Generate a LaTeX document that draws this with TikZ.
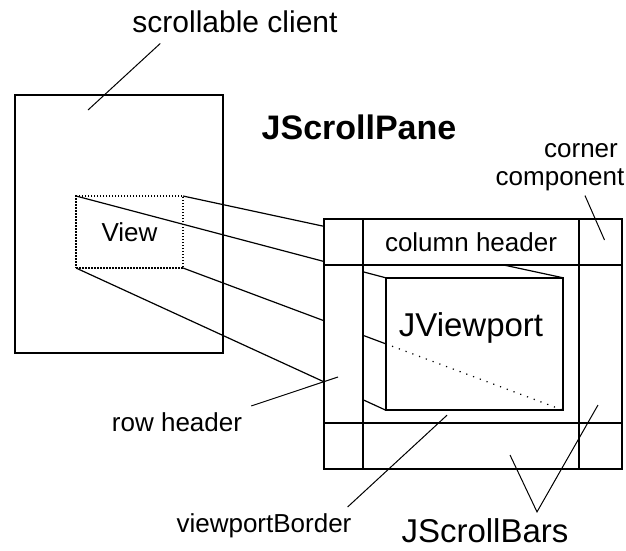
\documentclass[tikz,border=0pt]{standalone}
\usepackage{fontspec}
\setmainfont{Liberation Sans}
\usetikzlibrary{calc,positioning}

\tikzstyle{box}=[draw,line width=1.6pt,inner sep=0pt,outer sep=0pt]
\tikzstyle{cell}=[box,font=\fontsize{26}{30}\selectfont]
\tikzstyle{lbl}=[inner sep=0pt,anchor=base,font=\fontsize{26}{30}\selectfont]
\tikzstyle{big}=[lbl,font=\fontsize{33}{38}\selectfont]
\tikzstyle{lead}=[line width=1pt]
\tikzstyle{proj}=[line width=1.2pt]

\begin{document}
\begin{tikzpicture}[x=1pt,y=-1pt]
\useasboundingbox (0,0) rectangle (626,550);

% % % % % % % % % % % % % % %

% scrollable client with its view
\node[box,minimum width=208pt,minimum height=258pt] (client) at (119,224) {};
\node[cell,dash pattern=on 1.5pt off 1.5pt,minimum width=107pt,
      minimum height=72pt] (view) at (129.5,232) {View};

% the viewport (drawn later)
\node[inner sep=0pt,minimum width=177pt,minimum height=132pt] (port) at (474.5,344) {};

% projection of the view onto the viewport
\foreach \a in {north west,north east,south west,south east} {
\draw[proj] (view.\a) -- (port.\a);
}

% scroll pane cells
\foreach \name/\x/\y/\w/\h in {tl/343.5/242/39/46, colhead/471/242/216/46,
    corner/600.5/242/43/46, rowhead/343.5/344/39/158, vbar/600.5/344/43/158,
    bl/343.5/446/39/46, hbar/471/446/216/46, br/600.5/446/43/46} {
\node[cell,fill=white,minimum width=\w pt,minimum height=\h pt] (\name) at (\x,\y) {};
}
\node[lbl,anchor=center] at (colhead) {column header};

\draw[box,fill=white] (port.north west) rectangle (port.south east);
\begin{scope}
\clip (port.north west) rectangle (port.south east);
\draw[proj,dash pattern=on 1.2pt off 6pt] (view.south east) -- (port.south east);
\end{scope}

% labels
\node[lbl,font=\fontsize{30}{34}\selectfont] (clientlbl) at (235,32) {scrollable client};
\node[lbl,font=\fontsize{34}{40}\selectfont\bfseries] (title) at (359,139) {JScrollPane};
\node[lbl] (cornerlbl) at (581,157) {corner};
\node[lbl] (complbl) at (560,185) {component};
\node[big] (portlbl) at (471,336) {JViewport};
\node[lbl] (rowlbl) at (177,431) {row header};
\node[lbl] (borderlbl) at (264,532) {viewportBorder};
\node[big] (barslbl) at (485,542) {JScrollBars};

% leaders
\coordinate (clientpt) at (88,110);
\draw[lead] ($(clientlbl.south west)+(28,11)$) -- (clientpt);
\draw[lead] ($(complbl.south)+(25,5)$) -- ($(corner.center)+(4,-2)$);
\draw[lead] ($(rowlbl.north east)+(9,-6)$) -- ($(rowhead.center)+(-5.5,33)$);
\draw[lead] ($(borderlbl.north east)+(-4,-6)$) -- ($(port.south)+(-27.5,5)$);
\coordinate (barsvertex) at ($(barslbl.north)+(52,-6)$);
\draw[lead] ($(hbar.center)+(39,9)$) -- (barsvertex) -- ($(vbar.center)+(-2.5,61)$);

\end{tikzpicture}
\end{document}
